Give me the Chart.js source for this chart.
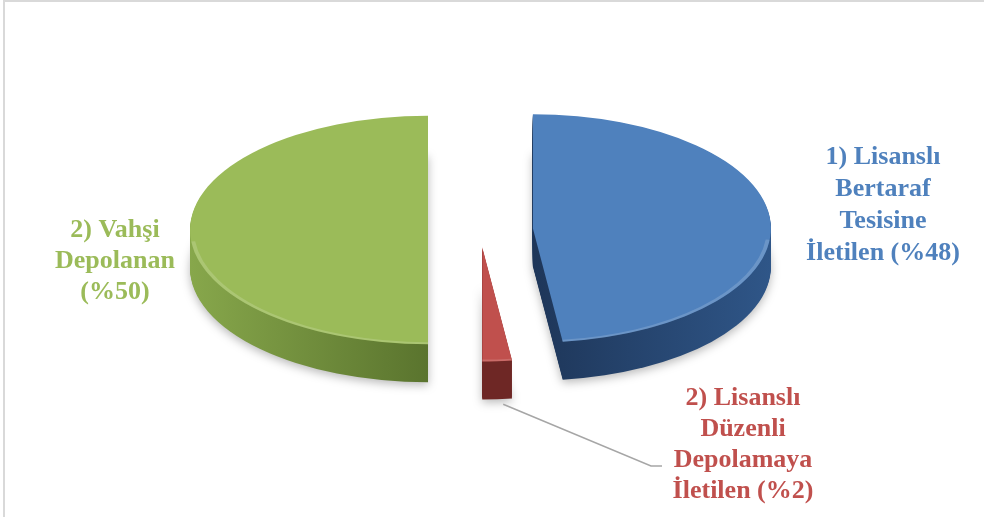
<!DOCTYPE html>
<html>
<head>
<meta charset="utf-8">
<script src="https://cdn.jsdelivr.net/npm/chart.js@4/dist/chart.umd.min.js"></script>
<style>
    html, body { margin: 0; padding: 0; background: #fff; }
    .frame { position: relative; width: 984px; height: 517px; overflow: hidden; }
    .frame::before {
        content: '';
        position: absolute;
        left: 3px; top: 0; right: -4px; bottom: -4px;
        border: 2px solid #d9d9d9;
    }
    #wasteChart { position: absolute; left: 0; top: 0; }
</style>
</head>
<body>
<div class="frame">
    <canvas id="wasteChart" width="984" height="517"></canvas>
</div>
<script>
// data
const categories = [
    '1) Lisanslı Bertaraf Tesisine İletilen',
    '2) Lisanslı Düzenli Depolamaya İletilen',
    '2) Vahşi Depolanan'
];
const shares = [48, 2, 50];
const labelLines = [
    ['1) Lisanslı', 'Bertaraf', 'Tesisine', 'İletilen (%' + shares[0] + ')'],
    ['2) Lisanslı', 'Düzenli', 'Depolamaya', 'İletilen (%' + shares[1] + ')'],
    ['2) Vahşi', 'Depolanan', '(%' + shares[2] + ')']
];

// look
const topColors = ['#4f81bd', '#c0504d', '#9bbb59'];
const sideShades = [
    ['#1e3659', '#1e3659', '#2f5688'],
    ['#6e2725', '#6e2725', '#6e2725'],
    ['#87a74b', '#5a742e', '#5a742e']
];
const explode = [53, 36, 52];   // px each slice is pulled out
const labelSpots = [
    { x: 883, y: 164, step: 32 },
    { x: 743, y: 405, step: 31 },
    { x: 115, y: 237, step: 31 }
];
const TILT = 0.48;
const DEPTH = 38;

function arcGeom(arc) {
    const p = arc.getProps(['x', 'y', 'startAngle', 'endAngle', 'outerRadius']);
    return {
        cx: p.x,
        cy: p.y,
        r: p.outerRadius,
        a0: p.startAngle,
        a1: p.endAngle,
        mid: (p.startAngle + p.endAngle) / 2
    };
}

function sectorPath(ctx, g) {
    ctx.beginPath();
    ctx.moveTo(g.cx, g.cy);
    ctx.arc(g.cx, g.cy, g.r, g.a0, g.a1);
    ctx.closePath();
}

function pieCenter(chart) {
    const a = chart.chartArea;
    return { x: (a.left + a.right) / 2, y: (a.top + a.bottom) / 2 };
}

// explode the slices, squash the pie into an ellipse and give it a side wall
const tiltPlugin = {
    id: 'tilt',
    beforeDatasetsDraw(chart) {
        const ctx = chart.ctx;
        const meta = chart.getDatasetMeta(0);
        const c = pieCenter(chart);

        meta.data.forEach((arc, i) => {
            const mid = (arc.startAngle + arc.endAngle) / 2;
            arc.x = c.x + Math.cos(mid) * explode[i];
            arc.y = c.y + Math.sin(mid) * explode[i];
        });

        ctx.save();
        ctx.translate(c.x, c.y);
        ctx.scale(1, TILT);
        ctx.translate(-c.x, -c.y);

        meta.data.forEach((arc, i) => {
            const g = arcGeom(arc);
            const grad = ctx.createLinearGradient(g.cx - g.r, 0, g.cx + g.r, 0);
            grad.addColorStop(0, sideShades[i][0]);
            grad.addColorStop(0.5, sideShades[i][1]);
            grad.addColorStop(1, sideShades[i][2]);
            for (let d = DEPTH; d > 0; d--) {
                ctx.save();
                ctx.translate(0, d / TILT);
                if (d === DEPTH) {
                    ctx.shadowColor = 'rgba(0,0,0,0.28)';
                    ctx.shadowBlur = 10;
                    ctx.shadowOffsetY = 3;
                }
                sectorPath(ctx, g);
                ctx.fillStyle = grad;
                ctx.fill();
                ctx.restore();
            }
        });
    },
    afterDatasetsDraw(chart) {
        const ctx = chart.ctx;
        const meta = chart.getDatasetMeta(0);
        meta.data.forEach(arc => {
            const g = arcGeom(arc);
            const lo = Math.max(g.a0, 0.1), hi = Math.min(g.a1, Math.PI - 0.1);
            if (hi > lo) {
                ctx.beginPath();
                ctx.arc(g.cx, g.cy, g.r - 2, lo, hi);
                ctx.strokeStyle = 'rgba(255,255,255,0.16)';
                ctx.lineWidth = 4;
                ctx.stroke();
            }
        });
        ctx.restore();
    }
};

const labelPlugin = {
    id: 'sliceLabels',
    afterDraw(chart) {
        const ctx = chart.ctx;
        const meta = chart.getDatasetMeta(0);
        const c = pieCenter(chart);

        // leader line for the thin slice
        const g = arcGeom(meta.data[1]);
        const px = g.cx + Math.cos(g.mid) * g.r + 6;
        const py = c.y + (g.cy + Math.sin(g.mid) * g.r - c.y) * TILT + DEPTH + 5;
        ctx.save();
        ctx.beginPath();
        ctx.moveTo(px, py);
        ctx.lineTo(651, 466);
        ctx.lineTo(662, 466);
        ctx.strokeStyle = '#a6a6a6';
        ctx.lineWidth = 1.5;
        ctx.stroke();

        ctx.font = 'bold 26px "Liberation Serif", serif';
        ctx.textAlign = 'center';
        ctx.textBaseline = 'alphabetic';
        labelLines.forEach((lines, i) => {
            const spot = labelSpots[i];
            ctx.fillStyle = topColors[i];
            lines.forEach((t, k) => ctx.fillText(t, spot.x, spot.y + k * spot.step));
        });
        ctx.restore();
    }
};

document.addEventListener('DOMContentLoaded', () => {
    const ctx = document.getElementById('wasteChart').getContext('2d');
    new Chart(ctx, {
        type: 'pie',
        data: {
            labels: categories,
            datasets: [{
                data: shares,
                backgroundColor: topColors,
                borderWidth: 0
            }]
        },
        options: {
            responsive: false,
            animation: false,
            radius: 238,
            layout: { padding: { left: 0, right: 24, top: 0, bottom: 57 } },
            plugins: {
                legend: { display: false },
                tooltip: { enabled: false }
            }
        },
        plugins: [tiltPlugin, labelPlugin]
    });
});
</script>
</body>
</html>
